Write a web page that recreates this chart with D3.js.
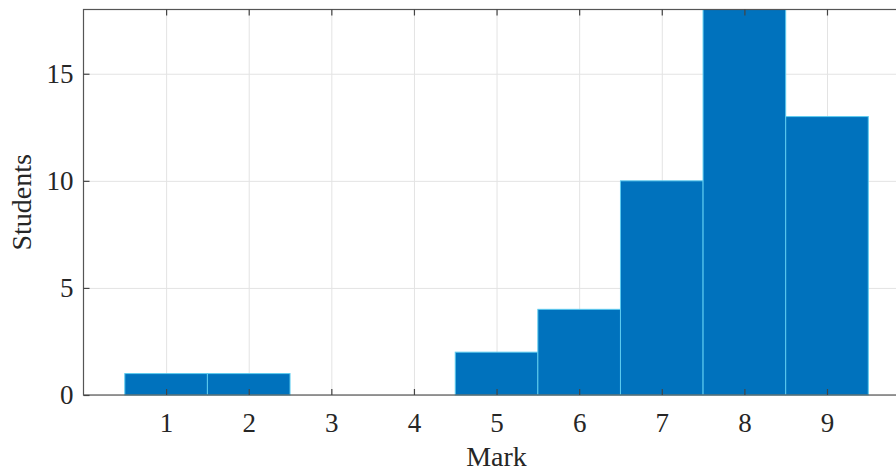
<!DOCTYPE html>
<html>
<head>
<meta charset="utf-8">
<script src="https://cdn.jsdelivr.net/npm/d3@7"></script>
<style>
  body { margin: 0; background: #fff; }
  svg { display: block; font-family: "Liberation Serif", "Times New Roman", serif; }
  .grid line { stroke: #e3e3e3; stroke-width: 1; }
  .grid path { display: none; }
</style>
</head>
<body>
<div id="chart-area"></div>
<script>
// data
var marks = [1, 2, 3, 4, 5, 6, 7, 8, 9];
var students = [1, 1, 0, 0, 2, 4, 10, 18, 13];
var yTicks = [0, 5, 10, 15];

// chart config
var width = 896, height = 473;
var margin = {top: 9.5, left: 83.5, bottom: 78};
var plotRight = 909.6; // axis box runs past the window edge

var svg = d3.select("#chart-area")
    .append("svg")
    .attr("width", width)
    .attr("height", height);

var xScale = d3.scaleLinear().domain([0, 10]).range([margin.left, plotRight]);
var yScale = d3.scaleLinear().domain([0, 18]).range([height - margin.bottom, margin.top]);

var y0 = yScale(0), yTop = yScale(18);

// grid
svg.append("g")
    .attr("class", "grid")
    .attr("transform", "translate(0," + y0 + ")")
    .call(d3.axisBottom(xScale).tickValues(marks).tickFormat("").tickSize(-(y0 - yTop)));

svg.append("g")
    .attr("class", "grid")
    .attr("transform", "translate(" + margin.left + ",0)")
    .call(d3.axisLeft(yScale).tickValues(yTicks).tickFormat("").tickSize(-(plotRight - margin.left)));

// bars
svg.append("g")
    .selectAll("rect")
    .data(marks)
    .enter().append("rect")
    .filter(function(d, i) { return students[i] > 0; })
    .attr("x", function(d) { return xScale(d - 0.5); })
    .attr("y", function(d) { return yScale(students[d - 1]); })
    .attr("width", function(d) { return xScale(d + 0.5) - xScale(d - 0.5); })
    .attr("height", function(d) { return y0 - yScale(students[d - 1]); })
    .style("fill", "#0072BD")
    .style("stroke", "#5ccbef")
    .style("stroke-width", 1);

// box
svg.append("rect")
    .attr("x", margin.left)
    .attr("y", yTop)
    .attr("width", plotRight - margin.left)
    .attr("height", y0 - yTop)
    .style("fill", "none")
    .style("stroke", "#555")
    .style("stroke-width", 1.2);

// axes (ticks pointing inward)
var xAxisEl = svg.append("g")
    .attr("transform", "translate(0," + y0 + ")")
    .call(d3.axisBottom(xScale).tickValues(marks).tickSizeInner(-6).tickSizeOuter(0).tickPadding(18));

var xTopEl = svg.append("g")
    .attr("transform", "translate(0," + yTop + ")")
    .call(d3.axisTop(xScale).tickValues(marks).tickFormat("").tickSizeInner(-6).tickSizeOuter(0));

var yAxisEl = svg.append("g")
    .attr("transform", "translate(" + margin.left + ",0)")
    .call(d3.axisLeft(yScale).tickValues(yTicks).tickSizeInner(-6).tickSizeOuter(0).tickPadding(10));

[xAxisEl, xTopEl, yAxisEl].forEach(function(el) {
    el.attr("font-family", null);
    el.select(".domain").remove();
    el.selectAll(".tick line").style("stroke", "#444").style("stroke-width", 1.2);
    el.selectAll(".tick text")
        .style("font-family", "'Liberation Serif', 'Times New Roman', serif")
        .style("font-size", "27px")
        .style("fill", "#262626");
});

// labels
svg.append("text")
    .attr("x", (margin.left + plotRight) / 2)
    .attr("y", 466)
    .attr("text-anchor", "middle")
    .style("font-size", "28px")
    .style("fill", "#262626")
    .text("Mark");

svg.append("text")
    .attr("transform", "translate(31," + (y0 + yTop) / 2 + ") rotate(-90)")
    .attr("text-anchor", "middle")
    .style("font-size", "28px")
    .style("fill", "#262626")
    .text("Students");
</script>
</body>
</html>
